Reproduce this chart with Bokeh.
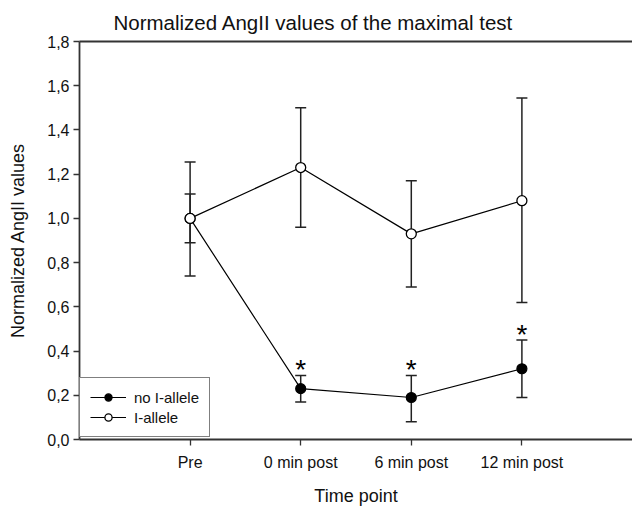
from bokeh.plotting import figure
from bokeh.models import (ColumnDataSource, Whisker, TeeHead, FixedTicker, Range1d,
                          CustomJSTickFormatter, Legend, LegendItem, LinearAxis, Title)
from bokeh.core.properties import value
from bokeh.embed import file_html
from bokeh.resources import INLINE

# ---- data ----
time_points = ["Pre", "0 min post", "6 min post", "12 min post"]
x_pos = [1, 2, 3, 4]

no_i_mean = [1.00, 0.23, 0.19, 0.32]
no_i_upper = [1.11, 0.29, 0.29, 0.45]
no_i_lower = [0.89, 0.17, 0.08, 0.19]
no_i_significant = [False, True, True, True]

i_mean = [1.00, 1.23, 0.93, 1.08]
i_upper = [1.255, 1.50, 1.17, 1.545]
i_lower = [0.74, 0.96, 0.69, 0.62]

y_ticks = [0.0, 0.2, 0.4, 0.6, 0.8, 1.0, 1.2, 1.4, 1.6, 1.8]

FONT = "Liberation Sans"

p = figure(width=632, height=508, output_backend="svg", toolbar_location=None,
           x_range=Range1d(0, 5), y_range=Range1d(0, 1.8),
           min_border_left=79, min_border_right=0, min_border_top=41,
           min_border_bottom=66)

p.outline_line_color = None
p.background_fill_color = "white"
p.border_fill_color = "white"
p.grid.visible = False

# title
p.title = Title(text="Normalized AngII values of the maximal test", align="left",
                offset=34, text_font=FONT, text_font_size="20.5px",
                text_font_style="normal", text_color="#111111", standoff=15)

# axes
xa = p.xaxis[0]
xa.ticker = FixedTicker(ticks=x_pos)
xa.major_label_overrides = {x: t for x, t in zip(x_pos, time_points)}
xa.minor_tick_line_color = None
xa.major_tick_in = 0
xa.major_tick_out = 6
xa.axis_line_width = 1.8
xa.axis_line_color = "#333333"
xa.major_tick_line_color = "#333333"
xa.major_tick_line_width = 1.3
xa.major_label_text_font = FONT
xa.major_label_text_font_size = "16px"
xa.major_label_text_color = "#111111"
xa.major_label_standoff = 8
xa.axis_label = "Time point"
xa.axis_label_text_font = FONT
xa.axis_label_text_font_size = "18px"
xa.axis_label_text_font_style = "normal"
xa.axis_label_text_color = "#111111"
xa.axis_label_standoff = 12

ya = p.yaxis[0]
ya.ticker = FixedTicker(ticks=y_ticks)
ya.formatter = CustomJSTickFormatter(code="return tick.toFixed(1).replace('.', ',');")
ya.minor_tick_line_color = None
ya.major_tick_in = 0
ya.major_tick_out = 6
ya.axis_line_width = 1.8
ya.axis_line_color = "#333333"
ya.major_tick_line_color = "#333333"
ya.major_tick_line_width = 1.3
ya.major_label_text_font = FONT
ya.major_label_text_font_size = "16px"
ya.major_label_text_color = "#111111"
ya.major_label_standoff = 4
ya.axis_label = "Normalized AngII values"
ya.axis_label_text_font = FONT
ya.axis_label_text_font_size = "18px"
ya.axis_label_text_font_style = "normal"
ya.axis_label_text_color = "#111111"
ya.axis_label_standoff = 16

# top frame line (no ticks, no labels)
top = LinearAxis(ticker=FixedTicker(ticks=[]), major_label_text_font_size="0px",
                 major_tick_line_color=None, minor_tick_line_color=None,
                 axis_line_width=1.8, axis_line_color="#333333")
p.add_layout(top, "above")

src_no = ColumnDataSource(dict(x=x_pos, y=no_i_mean, up=no_i_upper, lo=no_i_lower))
src_i = ColumnDataSource(dict(x=x_pos, y=i_mean, up=i_upper, lo=i_lower))

# error bars
for src in (src_i, src_no):
    w = Whisker(source=src, base="x", upper="up", lower="lo",
                line_color="#222222", line_width=1.5,
                upper_head=TeeHead(size=11, line_color="#222222", line_width=1.5),
                lower_head=TeeHead(size=11, line_color="#222222", line_width=1.5))
    p.add_layout(w)

# lines + markers
l_no = p.line("x", "y", source=src_no, line_color="black", line_width=1.2)
m_no = p.scatter("x", "y", source=src_no, marker="circle", size=10,
                 fill_color="black", line_color="black", line_width=1.2)
l_i = p.line("x", "y", source=src_i, line_color="black", line_width=1.2)
m_i = p.scatter("x", "y", source=src_i, marker="circle", size=10,
                fill_color="white", line_color="black", line_width=1.3)

# significance stars
sx = [x for x, s in zip(x_pos, no_i_significant) if s]
sy = [u for u, s in zip(no_i_upper, no_i_significant) if s]
p.text(x=sx, y=sy, text=["*"] * len(sx), text_font=value(FONT),
       text_font_size="28px", text_align="center", text_baseline="alphabetic",
       y_offset=-6, text_color="black")

legend = Legend(items=[LegendItem(label="no I-allele", renderers=[l_no, m_no]),
                       LegendItem(label="I-allele", renderers=[l_i, m_i])],
                location=(0, 2), border_line_color="black", border_line_width=1.3,
                background_fill_alpha=1, background_fill_color="white",
                label_text_font=FONT, label_text_font_size="15px",
                label_text_color="#111111", glyph_width=36, glyph_height=18,
                label_standoff=8, spacing=2, padding=10, margin=0,
                label_height=18)
p.add_layout(legend)

open("out.html", "w").write(file_html(p, INLINE))
